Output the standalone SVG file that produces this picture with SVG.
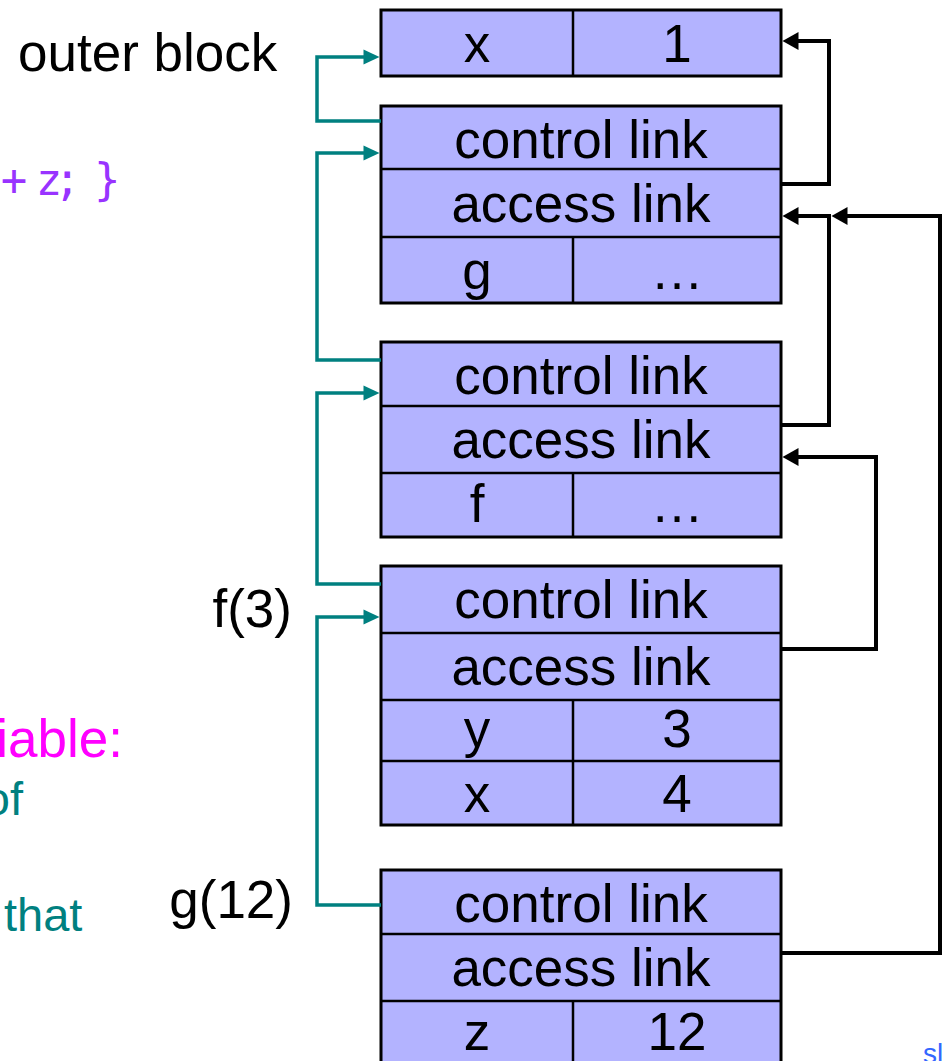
<svg xmlns="http://www.w3.org/2000/svg" width="946" height="1061" viewBox="0 0 946 1061">
<style>
.box{fill:#B3B3FF;stroke:#000;stroke-width:3}
.div{stroke:#000;stroke-width:2.5;fill:none}
.t{font-family:"Liberation Sans",Arial,sans-serif;font-size:53px;fill:#000;text-anchor:middle}
.lbl{font-family:"Liberation Sans",Arial,sans-serif;font-size:53px;fill:#000}
.blk{fill:none;stroke:#000;stroke-width:4}
.tea{fill:none;stroke:#008080;stroke-width:3.5}
</style>
<defs>
<marker id="ab" markerUnits="userSpaceOnUse" markerWidth="16" markerHeight="19" viewBox="0 0 16 19" refX="0.5" refY="9.5" orient="auto" overflow="visible">
<path d="M0,0.5 L16,9.5 L0,18.5 Z" fill="#000"/>
</marker>
<marker id="at" markerUnits="userSpaceOnUse" markerWidth="16" markerHeight="16" viewBox="0 0 16 16" refX="0.5" refY="8" orient="auto" overflow="visible">
<path d="M0,0.5 L16,8 L0,15.5 Z" fill="#008080"/>
</marker>
</defs>
<rect width="946" height="1061" fill="#fff"/>

<g id="side-text">
<text class="lbl" x="18" y="71">outer block</text>
<text x="0.7 35.7 54 80 94" y="195" font-family="'DejaVu Sans Mono','Liberation Mono',monospace" font-size="44" fill="#9933FF">+z; }</text>
<text x="123" y="757" font-family="'Liberation Sans',Arial,sans-serif" font-size="53" fill="#FF00FF" text-anchor="end">iable:</text>
<text x="23" y="815" font-family="'Liberation Sans',Arial,sans-serif" font-size="47" fill="#008080" text-anchor="end">of</text>
<text x="4" y="931" font-family="'Liberation Sans',Arial,sans-serif" font-size="47" fill="#008080">that</text>
<text class="lbl" x="292" y="627" text-anchor="end">f(3)</text>
<text class="lbl" x="293" y="918" text-anchor="end">g(12)</text>
<text x="923" y="1063" font-family="'Liberation Sans',Arial,sans-serif" font-size="28" fill="#3366FF">sl</text>
</g>

<g id="frame-outer">
<rect class="box" x="381" y="10" width="400" height="66"/>
<line class="div" x1="573" y1="10" x2="573" y2="76"/>
<text class="t" x="477" y="62">x</text>
<text class="t" x="677" y="62">1</text>
</g>

<g id="frame-g-decl">
<rect class="box" x="381" y="106" width="400" height="197"/>
<line class="div" x1="381" y1="169" x2="781" y2="169"/>
<line class="div" x1="381" y1="237" x2="781" y2="237"/>
<line class="div" x1="573" y1="237" x2="573" y2="303"/>
<text class="t" x="581" y="158">control link</text>
<text class="t" x="581" y="222">access link</text>
<text class="t" x="477" y="289">g</text>
<text class="t" x="677" y="289">…</text>
</g>

<g id="frame-f-decl">
<rect class="box" x="381" y="342" width="400" height="195"/>
<line class="div" x1="381" y1="406" x2="781" y2="406"/>
<line class="div" x1="381" y1="473" x2="781" y2="473"/>
<line class="div" x1="573" y1="473" x2="573" y2="537"/>
<text class="t" x="581" y="394">control link</text>
<text class="t" x="581" y="458">access link</text>
<text class="t" x="477" y="522">f</text>
<text class="t" x="677" y="522">…</text>
</g>

<g id="frame-f3">
<rect class="box" x="381" y="566" width="400" height="259"/>
<line class="div" x1="381" y1="633" x2="781" y2="633"/>
<line class="div" x1="381" y1="700" x2="781" y2="700"/>
<line class="div" x1="381" y1="761" x2="781" y2="761"/>
<line class="div" x1="573" y1="700" x2="573" y2="825"/>
<text class="t" x="581" y="618">control link</text>
<text class="t" x="581" y="685">access link</text>
<text class="t" x="477" y="747">y</text>
<text class="t" x="677" y="747">3</text>
<text class="t" x="477" y="812">x</text>
<text class="t" x="677" y="812">4</text>
</g>

<g id="frame-g12">
<rect class="box" x="381" y="870" width="400" height="200"/>
<line class="div" x1="381" y1="934" x2="781" y2="934"/>
<line class="div" x1="381" y1="1001" x2="781" y2="1001"/>
<line class="div" x1="573" y1="1001" x2="573" y2="1070"/>
<text class="t" x="581" y="922">control link</text>
<text class="t" x="581" y="986">access link</text>
<text class="t" x="477" y="1050">z</text>
<text class="t" x="677" y="1050">12</text>
</g>

<g id="connectors">
<path class="tea" d="M381,121 H317 V57 H364" marker-end="url(#at)"/>
<path class="tea" d="M381,360 H317 V153 H364" marker-end="url(#at)"/>
<path class="tea" d="M381,584 H317 V393 H364" marker-end="url(#at)"/>
<path class="tea" d="M381,905 H317 V617 H364" marker-end="url(#at)"/>
<path class="blk" d="M782,184 H829 V41 H798" marker-end="url(#ab)"/>
<path class="blk" d="M782,425 H829 V216 H798" marker-end="url(#ab)"/>
<path class="blk" d="M782,953 H940 V216 H847" marker-end="url(#ab)"/>
<path class="blk" d="M782,649 H876 V457 H798" marker-end="url(#ab)"/>
</g>
</svg>
